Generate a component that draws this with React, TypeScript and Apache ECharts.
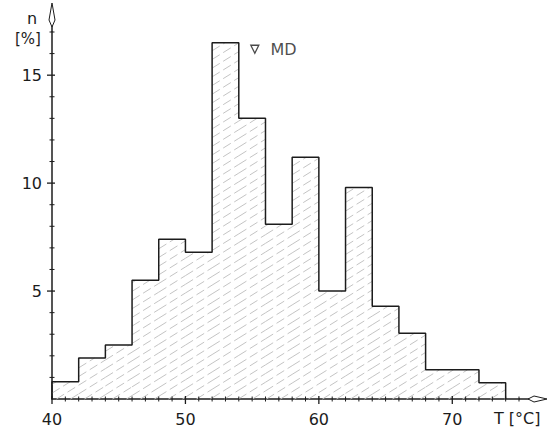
import React, { useEffect, useRef } from "react";
import * as echarts from "echarts";

const binStarts = [40, 42, 44, 46, 48, 50, 52, 54, 56, 58, 60, 62, 64, 66, 68, 70, 72];
const binWidth = 2;
const percents = [0.8, 1.9, 2.5, 5.5, 7.4, 6.8, 16.5, 13.0, 8.1, 11.2, 5.0, 9.8, 4.3, 3.05, 1.35, 1.35, 0.75];
const xTickLabels = [40, 50, 60, 70];
const yTickLabels = [5, 10, 15];
const xRange = [40, 75];
const yRange = [0, 17];
const mdPoint = [55.2, 16.2];

const INK = "#1c1c1c";
const FONT = "DejaVu Sans";

export default function App() {
  const ref = useRef<HTMLDivElement>(null);
  useEffect(() => {
    const chart = echarts.init(ref.current!, null, { renderer: "svg" });
    const bins = binStarts.map((s, i) => [s, s + binWidth, percents[i]]);
    const outline: number[][] = [[binStarts[0], 0]];
    bins.forEach((b) => outline.push([b[0], b[2]]));
    const last = bins[bins.length - 1];
    outline.push([last[1], last[2]], [last[1], 0]);

    // tick items: [x, y, axis(0=x,1=y), major(0/1)]
    const tickItems: number[][] = [];
    for (let v = xRange[0]; v <= xRange[1]; v++) tickItems.push([v, yRange[0], 0, xTickLabels.includes(v) ? 1 : 0]);
    for (let v = yRange[0] + 1; v <= yRange[1]; v++) tickItems.push([xRange[0], v, 1, yTickLabels.includes(v) ? 1 : 0]);

    const gridLeft = 52, gridTop = 32, gridRight = 32, gridBottom = 37;
    const axisX = gridLeft;
    const axisY = 436 - gridBottom;
    const xEnd = 551 - gridRight;

    chart.setOption({
      animation: false,
      backgroundColor: "#ffffff",
      grid: { left: gridLeft, top: gridTop, right: gridRight, bottom: gridBottom },
      xAxis: {
        type: "value", min: xRange[0], max: xRange[1], interval: 10, position: "bottom",
        axisLine: { show: true, onZero: false, lineStyle: { color: INK, width: 1.5 } },
        axisTick: { show: false },
        axisLabel: {
          margin: 12, fontSize: 16, color: INK, fontFamily: FONT,
          formatter: (v: number) => (xTickLabels.includes(v) ? String(v) : ""),
        },
        splitLine: { show: false },
      },
      yAxis: {
        type: "value", min: yRange[0], max: yRange[1], interval: 5, position: "left",
        axisLine: { show: true, onZero: false, lineStyle: { color: INK, width: 1.5 } },
        axisTick: { show: false },
        axisLabel: {
          margin: 10, fontSize: 16, color: INK, fontFamily: FONT,
          formatter: (v: number) => (yTickLabels.includes(v) ? String(v) : ""),
        },
        splitLine: { show: false },
      },
      series: [
        {
          type: "custom",
          data: bins,
          encode: { x: [0, 1], y: 2 },
          silent: true,
          renderItem: (params: any, api: any) => {
            const x0v = api.value(0), x1v = api.value(1), v = api.value(2);
            const p0 = api.coord([x0v, v]);
            const p1 = api.coord([x1v, 0]);
            const xl = p0[0], xr = p1[0], yt = p0[1], yb = p1[1];
            const m = 0.62, sp = 14, dc = m * sp;
            const children: any[] = [];
            const cMin = yt + m * xl, cMax = yb + m * xr;
            for (let c = Math.ceil(cMin / dc) * dc; c <= cMax; c += dc) {
              const xa = Math.max(xl, (c - yb) / m);
              const xb = Math.min(xr, (c - yt) / m);
              if (xb > xa + 0.5) {
                children.push({
                  type: "line",
                  shape: { x1: xa, y1: c - m * xa, x2: xb, y2: c - m * xb },
                  style: { stroke: "#c4c4c4", lineWidth: 1, lineDash: [9, 4] },
                  silent: true,
                });
              }
            }
            return { type: "group", children };
          },
        },
        {
          type: "line",
          data: outline,
          step: "end",
          symbol: "none",
          lineStyle: { color: INK, width: 1.5 },
          silent: true,
          z: 3,
        },
        {
          type: "custom",
          data: tickItems,
          encode: { x: 0, y: 1 },
          silent: true,
          z: 5,
          renderItem: (params: any, api: any) => {
            const p = api.coord([api.value(0), api.value(1)]);
            const isY = api.value(2) === 1;
            const major = api.value(3) === 1;
            const out = major ? 5 : 2.5;
            const inn = major ? 3 : 2.5;
            const shape = isY
              ? { x1: p[0] - out, y1: p[1], x2: p[0] + inn, y2: p[1] }
              : { x1: p[0], y1: p[1] - inn, x2: p[0], y2: p[1] + out };
            return { type: "line", shape, style: { stroke: INK, lineWidth: major ? 1.3 : 1 } };
          },
        },
        {
          type: "scatter",
          data: [mdPoint],
          symbol: "triangle",
          symbolRotate: 180,
          symbolSize: 8,
          itemStyle: { color: "#ffffff", borderColor: INK, borderWidth: 1.3 },
          label: {
            show: true, position: "right", distance: 11, formatter: "MD",
            fontSize: 16, color: INK, fontFamily: FONT,
          },
          silent: true,
          z: 4,
        },
      ],
      graphic: [
        { type: "line", shape: { x1: axisX, y1: gridTop, x2: axisX, y2: 18 }, style: { stroke: INK, lineWidth: 1.5 } },
        {
          type: "polygon",
          shape: { points: [[axisX, 3], [axisX + 3, 20], [axisX, 27], [axisX - 3, 20]] },
          style: { fill: "#ffffff", stroke: INK, lineWidth: 1 },
        },
        { type: "line", shape: { x1: xEnd, y1: axisY, x2: xEnd + 14, y2: axisY }, style: { stroke: INK, lineWidth: 1.5 } },
        {
          type: "polygon",
          shape: { points: [[xEnd + 28, axisY], [xEnd + 15, axisY - 3], [xEnd + 9, axisY], [xEnd + 15, axisY + 3]] },
          style: { fill: "#ffffff", stroke: INK, lineWidth: 1 },
        },
        { type: "text", left: 27, top: 10, style: { text: "n", fontSize: 16, fill: INK, fontFamily: FONT } },
        { type: "text", left: 15, top: 31, style: { text: "[%]", fontSize: 15, fill: INK, fontFamily: FONT } },
        { type: "text", left: 494, top: 410, style: { text: "T [°C]", fontSize: 16, fill: INK, fontFamily: FONT } },
      ],
    });
    return () => chart.dispose();
  }, []);
  return <div ref={ref} style={{ width: 551, height: 436, position: "absolute", left: 0, top: 0 }} />;
}
